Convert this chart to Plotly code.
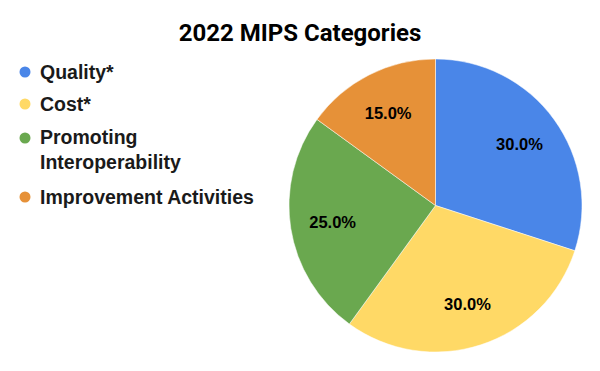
import plotly.graph_objects as go

categories = ["Quality*", "Cost*", "Promoting<br>Interoperability", "Improvement Activities"]
values = [30, 30, 25, 15]
colors = ["#4A86E8", "#FFD966", "#6AA84F", "#E69138"]
title = "2022 MIPS Categories"

W, H = 600, 371
cx, cy, r = 435.5, 205.5, 146.5
dom = dict(x=[(cx - r) / W, (cx + r) / W], y=[1 - (cy + r) / H, 1 - (cy - r) / H])

fig = go.Figure()
fig.add_trace(go.Pie(
    labels=categories, values=values, sort=False, direction="clockwise", rotation=0,
    marker=dict(colors=colors, line=dict(color="white", width=0.5)),
    textinfo="none", showlegend=False, hoverinfo="label+percent", domain=dom,
))
# transparent ring carrying the percentage labels (places them at ~0.7 r)
fig.add_trace(go.Pie(
    labels=categories, values=values, sort=False, direction="clockwise", rotation=0, hole=0.42,
    marker=dict(colors=["rgba(0,0,0,0)"] * len(values), line=dict(width=0)),
    texttemplate="%{percent:.1%}", textposition="inside", insidetextorientation="horizontal",
    textfont=dict(family="Liberation Sans, Arial", size=16.5, color="black", weight="bold"),
    showlegend=False, hoverinfo="skip", domain=dom,
))

# legend drawn manually
leg_y = [72, 104, 149.5, 197]
shapes = []
annotations = []
for cat, col, py in zip(categories, colors, leg_y):
    mark_y = py if "<br>" not in cat else py - 11.5
    shapes.append(dict(type="circle", xref="paper", yref="paper", xsizemode="pixel", ysizemode="pixel",
                       xanchor=25 / W, yanchor=1 - mark_y / H, x0=-5.5, x1=5.5, y0=-5.5, y1=5.5,
                       fillcolor=col, line=dict(width=0)))
    annotations.append(dict(text=cat, xref="paper", yref="paper", x=38 / W, y=1 - py / H,
                            xanchor="left", yanchor="middle", showarrow=False, align="left",
                            font=dict(family="Liberation Sans, Arial", size=19.5, color="#1a1a1a", weight="bold")))

fig.update_layout(
    width=W, height=H, margin=dict(l=0, r=0, t=0, b=0),
    paper_bgcolor="white", plot_bgcolor="white",
    title=dict(text=title, x=0.5, xanchor="center", y=1 - 33 / H, yanchor="middle",
               font=dict(family="Roboto", size=24, color="black", weight="bold")),
    shapes=shapes, annotations=annotations,
)
fig.write_html("out.html", config={"displayModeBar": False},
               post_script="document.body.style.margin='0';")
